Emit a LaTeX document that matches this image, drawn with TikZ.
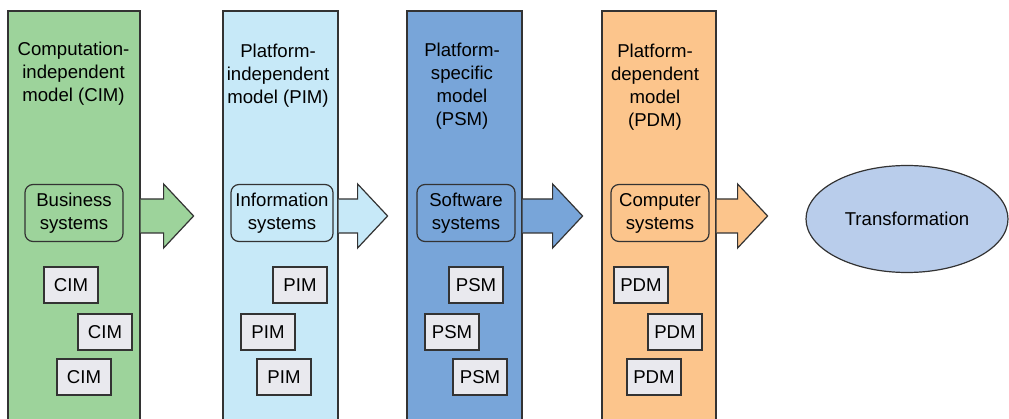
\documentclass[tikz,border=0pt]{standalone}
\usepackage{fontspec}
\setmainfont{Liberation Sans}
\usetikzlibrary{arrows.meta, positioning, shapes.geometric, calc}
\definecolor{cgreen}{HTML}{9DD39B}
\definecolor{clight}{HTML}{C7E9F8}
\definecolor{cblue}{HTML}{78A5D9}
\definecolor{corange}{HTML}{FCC58C}
\definecolor{cellipse}{HTML}{B9CDEB}
\definecolor{cbox}{HTML}{E9E9EE}
\definecolor{cdark}{HTML}{333333}
\tikzset{
  every picture/.style={font=\fontsize{18.6}{23}\selectfont, line width=1.2pt},
  column/.style={draw=cdark, fill=#1, minimum width=115pt, minimum height=410pt, inner sep=0pt},
  sysbox/.style={draw=cdark, fill=#1, rounded corners=8pt, align=center, minimum width=98pt, minimum height=57pt, inner sep=1pt},
  bigarrow/.style={draw=cdark, fill=#1, line join=miter},
  title/.style={align=center, inner sep=0pt},
}

\begin{document}
\begin{tikzpicture}[x=1pt, y=-1pt,
    mbox/.style={draw=cdark, fill=cbox, minimum width=54pt, minimum height=36pt, inner sep=0pt}]
  \useasboundingbox (0,0) rectangle (1009,419);
  \clip (0,0) rectangle (1009,419);
  % ---- the four model columns, running off the bottom ----
  \node[column=cgreen, minimum width=132pt] (cim) at (74,216) {};
  \node[column=clight] (pim) at (280.5,216) {};
  \node[column=cblue] (psm) at (464.5,216) {};
  \node[column=corange, minimum width=114pt] (pdm) at (659,216) {};
  \node[title] (cimtitle) at (73.5,74) {Computation-\\independent\\model (CIM)};
  \node[title] (pimtitle) at (278,76) {Platform-\\independent\\model (PIM)};
  \node[title] (psmtitle) at (462,86) {Platform-\\specific\\model\\(PSM)};
  \node[title] (pdmtitle) at (655,87) {Platform-\\dependent\\model\\(PDM)};
  % ---- systems boxes ----
  \node[sysbox=cgreen] (business) at (74,213) {Business\\systems};
  \node[sysbox=clight, minimum width=102pt] (information) at (282,213) {Information\\systems};
  \node[sysbox=cblue] (software) at (466,213) {Software\\systems};
  \node[sysbox=corange] (computer) at (660,213) {Computer\\systems};
  % ---- block arrows out of each column ----
  \foreach \n/\c/\s in {cim/cgreen/23, pim/clight/19, psm/cblue/30, pdm/corange/21}
    \draw[bigarrow=\c] (\n.east) ++(0,-17) -- ++(\s,0) -- ++(0,-15) -- ++(30,32)
      -- ++(-30,32) -- ++(0,-15) -- ++(-\s,0);
  % ---- small model boxes ----
  \foreach \t/\x/\y [count=\i] in {CIM/71/285, CIM/105/332, CIM/84/377,
      PIM/300/285, PIM/268/332, PIM/284/377,
      PSM/476/285, PSM/452/332, PSM/480/377,
      PDM/641/285, PDM/675/332, PDM/654/377}
    \node[mbox] (m\i) at (\x,\y) {\t};
  \node[draw=cdark, fill=cellipse, ellipse, minimum width=202pt, minimum height=107pt, inner sep=0pt] (trans) at (907,219) {Transformation};
\end{tikzpicture}
\end{document}
